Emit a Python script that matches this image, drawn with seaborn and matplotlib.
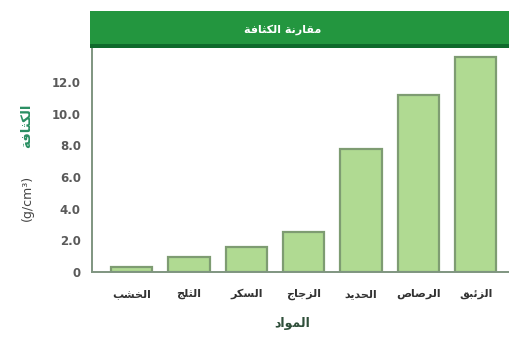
import matplotlib
matplotlib.use("Agg")
import matplotlib.pyplot as plt
from matplotlib.patches import Rectangle
import seaborn as sns
import pandas as pd

# Data
materials = ["الخشب", "الثلج", "السكر", "الزجاج", "الحديد", "الرصاص", "الزئبق"]
density = [0.3, 0.92, 1.55, 2.5, 7.8, 11.2, 13.55]
y_ticks = [0, 2, 4, 6, 8, 10, 12]
y_tick_labels = ["0", "2.0", "4.0", "6.0", "8.0", "10.0", "12.0"]
title = "مقارنة الكثافة"
x_title = "المواد"
y_title = "الكثافة"
y_unit = "(g/cm³)"

# Arabic contextual forms: isolated, final, initial, medial
FORMS = {
    "ا": ("\uFE8D", "\uFE8E", None, None),
    "ب": ("\uFE8F", "\uFE90", "\uFE91", "\uFE92"),
    "ة": ("\uFE93", "\uFE94", None, None),
    "ث": ("\uFE99", "\uFE9A", "\uFE9B", "\uFE9C"),
    "ج": ("\uFE9D", "\uFE9E", "\uFE9F", "\uFEA0"),
    "ح": ("\uFEA1", "\uFEA2", "\uFEA3", "\uFEA4"),
    "خ": ("\uFEA5", "\uFEA6", "\uFEA7", "\uFEA8"),
    "د": ("\uFEA9", "\uFEAA", None, None),
    "ر": ("\uFEAD", "\uFEAE", None, None),
    "ز": ("\uFEAF", "\uFEB0", None, None),
    "س": ("\uFEB1", "\uFEB2", "\uFEB3", "\uFEB4"),
    "ش": ("\uFEB5", "\uFEB6", "\uFEB7", "\uFEB8"),
    "ص": ("\uFEB9", "\uFEBA", "\uFEBB", "\uFEBC"),
    "ف": ("\uFED1", "\uFED2", "\uFED3", "\uFED4"),
    "ق": ("\uFED5", "\uFED6", "\uFED7", "\uFED8"),
    "ك": ("\uFED9", "\uFEDA", "\uFEDB", "\uFEDC"),
    "ل": ("\uFEDD", "\uFEDE", "\uFEDF", "\uFEE0"),
    "م": ("\uFEE1", "\uFEE2", "\uFEE3", "\uFEE4"),
    "ن": ("\uFEE5", "\uFEE6", "\uFEE7", "\uFEE8"),
    "و": ("\uFEED", "\uFEEE", None, None),
    "ي": ("\uFEF1", "\uFEF2", "\uFEF3", "\uFEF4"),
    "ئ": ("\uFE89", "\uFE8A", "\uFE8B", "\uFE8C"),
}


def shape(text):
    """Join Arabic letters into their contextual forms and order them for display."""
    out = []
    n = len(text)
    for i, c in enumerate(text):
        if c not in FORMS:
            out.append(c)
            continue
        prev = text[i - 1] if i > 0 else None
        nxt = text[i + 1] if i + 1 < n else None
        join_prev = prev in FORMS and FORMS[prev][2] is not None
        join_next = nxt in FORMS and FORMS[c][2] is not None
        iso, fin, ini, med = FORMS[c]
        if join_prev and join_next:
            out.append(med)
        elif join_prev:
            out.append(fin)
        elif join_next:
            out.append(ini)
        else:
            out.append(iso)
    return "".join(reversed(out))


sns.set_theme(style="white")
plt.rcParams["font.family"] = ["DejaVu Sans"]

W, H = 510, 339
fig = plt.figure(figsize=(W / 100, H / 100), dpi=100)
fig.patch.set_facecolor("white")

ax_left, ax_right, ax_top, ax_bottom = 92, 510, 48, 272
ax = fig.add_axes([ax_left / W, 1 - ax_bottom / H,
                   (ax_right - ax_left) / W, (ax_bottom - ax_top) / H])

df = pd.DataFrame({"material": materials, "density": density})
sns.barplot(data=df, x="material", y="density", ax=ax, color="#b0da92",
            edgecolor="#7e9c72", linewidth=1.6, width=0.72, saturation=1)

ax.set_xlim(-0.69, 6.6)
ax.set_ylim(0, 14.15)
ax.set_yticks(y_ticks)
ax.set_yticklabels(y_tick_labels, fontsize=8.5, fontweight="bold", color="#5a5a5a")
ax.set_xticks(range(len(materials)))
ax.set_xticklabels([shape(m) for m in materials], fontsize=8, fontweight="bold",
                   color="#333333")
ax.tick_params(axis="y", direction="in", length=4, color="#c8d8c8", pad=8)
ax.tick_params(axis="x", length=0, pad=12)
ax.set_xlabel("")
ax.set_ylabel("")

for side in ("top", "right"):
    ax.spines[side].set_visible(False)
for side in ("left", "bottom"):
    ax.spines[side].set_color("#7f9580")
    ax.spines[side].set_linewidth(1.4)

# Header band with the chart title
fig.patches.append(Rectangle((90 / W, 1 - 48 / H), (W - 90) / W, 37 / H,
                             transform=fig.transFigure, facecolor="#23963f",
                             edgecolor="none", zorder=0))
fig.patches.append(Rectangle((90 / W, 1 - 48 / H), (W - 90) / W, 4 / H,
                             transform=fig.transFigure, facecolor="#0f6a2c",
                             edgecolor="none", zorder=1))
fig.text(283 / W, 1 - 30 / H, shape(title), color="white", fontsize=8,
         fontweight="bold", ha="center", va="center")

# Axis titles
fig.text(292 / W, 1 - 323 / H, shape(x_title), color="#2f4f3a", fontsize=9,
         fontweight="bold", ha="center", va="center")
fig.text(27 / W, 1 - 126 / H, shape(y_title), color="#2a8f63", fontsize=9.5,
         fontweight="bold", ha="center", va="center", rotation=90)
fig.text(27 / W, 1 - 198 / H, y_unit, color="#444444", fontsize=9,
         ha="center", va="center", rotation=90)

fig.savefig("out.png", dpi=100, facecolor="white")
